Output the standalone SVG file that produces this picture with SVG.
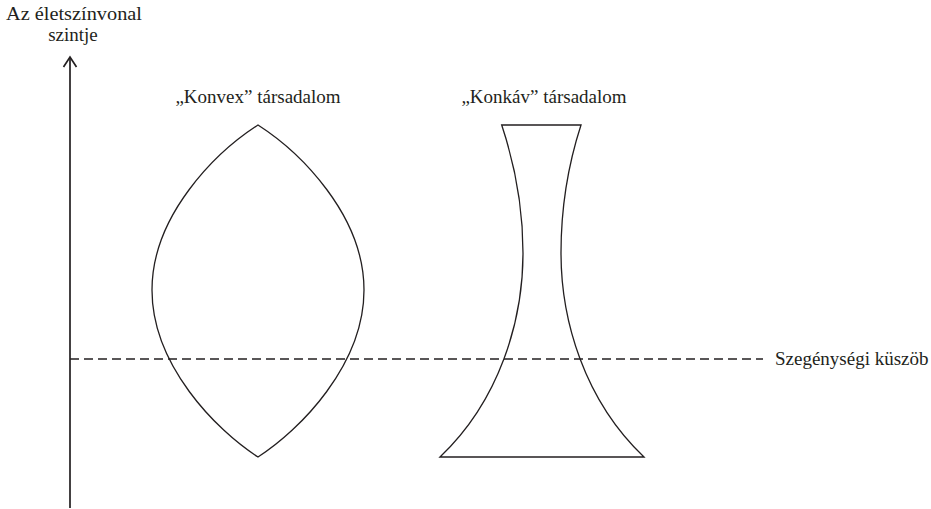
<svg xmlns="http://www.w3.org/2000/svg" width="931" height="509" viewBox="0 0 931 509">
<style>
text{font-family:"Liberation Serif","Times New Roman",serif;font-size:19px;fill:#231f20}
.shape{fill:none;stroke:#231f20;stroke-width:1.3;stroke-linejoin:miter}
.axis{fill:none;stroke:#231f20;stroke-width:1.7}
.dash{fill:none;stroke:#231f20;stroke-width:1.4;stroke-dasharray:9 5}
</style>
<rect width="931" height="509" fill="#fff"/>
<g id="axis">
<line class="axis" x1="70" y1="57" x2="70" y2="508"/>
<polyline class="axis" points="63.5,67 70,57 76.5,67"/>
<text x="74" y="20" text-anchor="middle" textLength="136" lengthAdjust="spacingAndGlyphs">Az életszínvonal</text>
<text x="73" y="41" text-anchor="middle">szintje</text>
</g>
<g id="connectors">
<line class="dash" x1="70" y1="359" x2="763" y2="359"/>
</g>
<g id="threshold">
<text x="775" y="365">Szegénységi küszöb</text>
</g>
<g id="convex">
<path class="shape" d="M258,125 C300,152 364,215 364,290 C364,365 300,430 258,457 C216,430 152,365 152,290 C152,215 216,152 258,125 Z"/>
<text x="258" y="103" text-anchor="middle">„Konvex” társadalom</text>
</g>
<g id="concave">
<path class="shape" d="M501.7,125 L581,125 C568,165 561,210 561,253 C561,320 584,400 644,457 L440,457 C500,400 523,320 523,253 C523,210 515,165 501.7,125 Z"/>
<text x="544" y="103" text-anchor="middle">„Konkáv” társadalom</text>
</g>
</svg>
